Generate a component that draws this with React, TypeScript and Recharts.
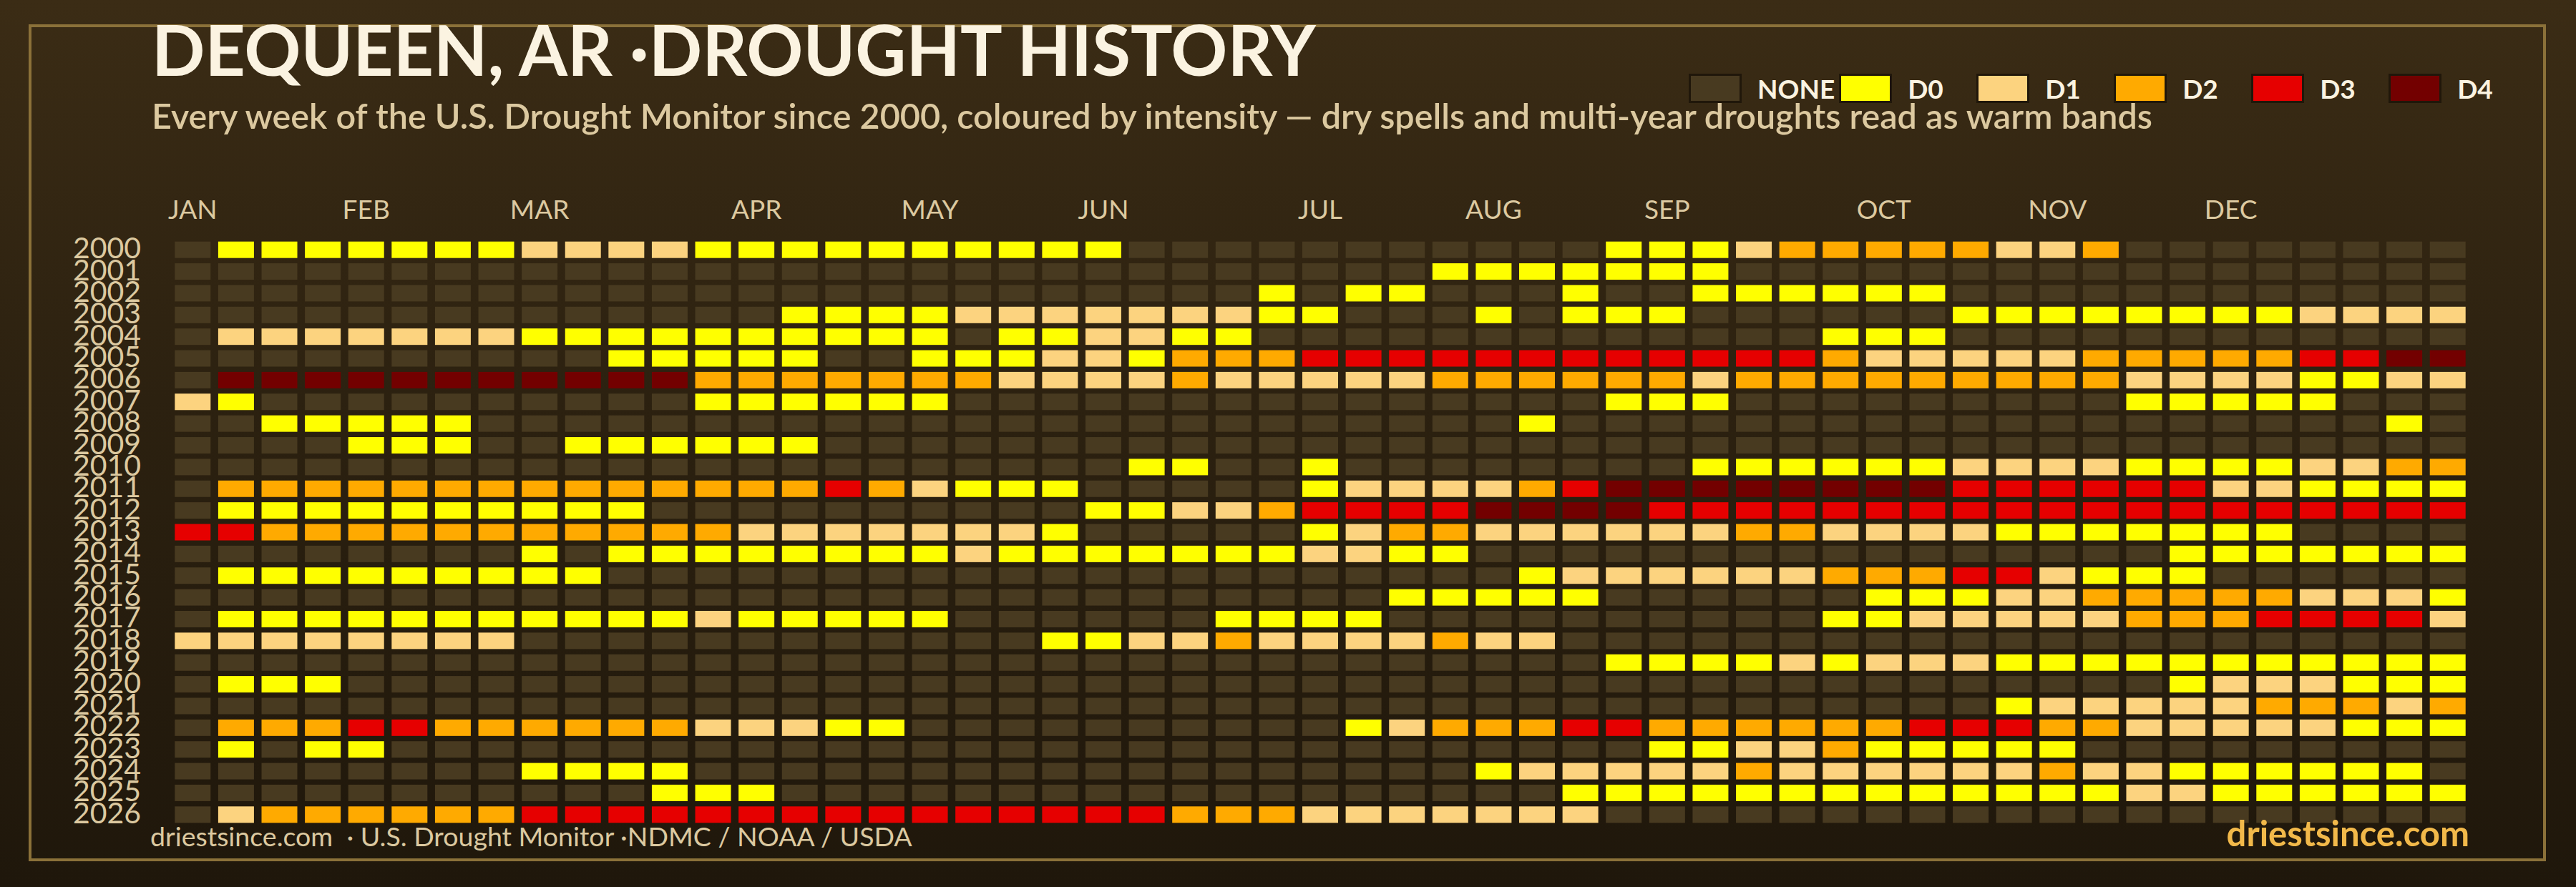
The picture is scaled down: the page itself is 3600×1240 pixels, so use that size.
import { ScatterChart, Scatter, XAxis, YAxis } from 'recharts'

// one row per year, one character per USDM week: '.' none, '0'..'4' = D0..D4
// segments split at weeks 17 | 35 only to keep them readable
const YEARS = [
  2000, 2001, 2002, 2003, 2004, 2005, 2006, 2007, 2008, 2009, 2010, 2011, 2012, 2013,
  2014, 2015, 2016, 2017, 2018, 2019, 2020, 2021, 2022, 2023, 2024, 2025, 2026,
]

const WEEK_CODES = [
  '.0000000111100000|00000...........00|0122222112........',
  '.................|............000000|0.................',
  '.................|........0.00...0..|000000............',
  '..............000|0111111100...0.000|......000000001111',
  '.1111111000000000|0.001100..........|...000............',
  '..........00000..|000110222333333333|333211111222223344',
  '.4444444444422222|221111211111222222|122222222211110011',
  '10..........00000|0...............00|0.........00000...',
  '..00000..........|..............0...|................0.',
  '....000..000000..|..................|..................',
  '.................|.....00..0........|000000111100001122',
  '.2222222222222232|1000.....011112344|444444333333110000',
  '.0000000000......|....00112333344443|333333333333333333',
  '33222222222221111|1110.....012211111|12211110000000....',
  '........0.0000000|0100000001100.....|...........0000000',
  '.000000000.......|..............0111|111222331000......',
  '.................|...........00000..|....00011222221110',
  '.0000000000010000|0......0000.......|...001111122233331',
  '11111111.........|...001121111211...|..................',
  '.................|................00|001011100000000000',
  '.000.............|..................|...........0111000',
  '.................|..................|.......01111122212',
  '.2223322222211100|..........01222332|222223332211111000',
  '.0.00............|.................0|011200000.........',
  '........0000.....|.............01111|12111111211000000.',
  '...........000...|...............000|000000000011000000',
  '.1222222333333333|3333332221111111..|..................',
]

const LEVELS = ['NONE', 'D0', 'D1', 'D2', 'D3', 'D4']
const LEVEL_COLORS = ['#483a20', '#ffff00', '#fcd37f', '#ffaa00', '#e60000', '#730000']
const CODE_TO_LEVEL: Record<string, number> = { '.': 0, '0': 1, '1': 2, '2': 3, '3': 4, '4': 5 }

const MONTHS = ['JAN', 'FEB', 'MAR', 'APR', 'MAY', 'JUN', 'JUL', 'AUG', 'SEP', 'OCT', 'NOV', 'DEC']
const MONTH_WEEKS = [1, 5, 9, 14, 18, 22, 27, 31, 35, 40, 44, 48]

const cells = YEARS.flatMap((year, i) =>
  WEEK_CODES[i]
    .replace(/\|/g, '')
    .split('')
    .map((c, w) => ({ year, week: w + 1, level: CODE_TO_LEVEL[c] ?? 0 }))
)
const seriesData = LEVELS.map((_, lvl) => cells.filter((c) => c.level === lvl))

const FONT = 'Lato, "DejaVu Sans", sans-serif'
const CELL_W = 50
const CELL_H = 23

function CellShape(props: any) {
  const { cx, cy, fill } = props
  if (cx == null || cy == null) return null
  return <rect x={cx - CELL_W / 2} y={cy - CELL_H / 2} width={CELL_W} height={CELL_H} fill={fill} />
}

function MonthTick(props: any) {
  const { x, y, payload } = props
  const label = MONTHS[MONTH_WEEKS.indexOf(payload.value)]
  return (
    <text x={x} y={y} textAnchor="middle" fontFamily={FONT} fontSize={37} fill="#dcc9a0">
      {label}
    </text>
  )
}

function YearTick(props: any) {
  const { x, y, payload } = props
  return (
    <text x={x} y={y} dy={12} textAnchor="end" fontFamily={FONT} fontSize={41} fill="#dcc9a0">
      {payload.value}
    </text>
  )
}

export default function App() {
  return (
    <div
      style={{
        position: 'absolute',
        left: 0,
        top: 0,
        width: 3600,
        height: 1240,
        background: 'linear-gradient(180deg, #3b2c15 0%, #2c2110 45%, #1f170b 100%)',
        overflow: 'hidden',
      }}
    >
      <svg width={3600} height={1240} style={{ position: 'absolute', left: 0, top: 0 }}>
        <rect x={42} y={36} width={3514} height={1166} fill="none" stroke="#8b7139" strokeWidth={4} />
      </svg>

      <div style={{ position: 'absolute', left: 0, top: 0 }}>
        <ScatterChart width={3600} height={1240} margin={{ top: 274, right: 149, bottom: 86, left: 139 }}>
          <XAxis
            type="number"
            dataKey="week"
            orientation="top"
            domain={[0.5, 53.5]}
            ticks={MONTH_WEEKS}
            interval={0}
            axisLine={false}
            tickLine={false}
            tickSize={0}
            tickMargin={28}
            height={60}
            tick={<MonthTick />}
          />
          <YAxis
            type="number"
            dataKey="year"
            domain={[1999.5, 2026.5]}
            reversed
            ticks={YEARS}
            interval={0}
            axisLine={false}
            tickLine={false}
            tickSize={0}
            tickMargin={42}
            width={100}
            tick={<YearTick />}
          />
          {seriesData.map((d, i) => (
            <Scatter
              key={LEVELS[i]}
              name={LEVELS[i]}
              data={d}
              fill={LEVEL_COLORS[i]}
              shape={CellShape}
              isAnimationActive={false}
            />
          ))}
        </ScatterChart>
      </div>

      <svg width={3600} height={1240} style={{ position: 'absolute', left: 0, top: 0, pointerEvents: 'none' }}>
        <text x={212} y={106} fontFamily={FONT} fontSize={98} fontWeight={700} fill="#fbf3e1">
          DEQUEEN, AR ·DROUGHT HISTORY
        </text>
        <text x={212} y={180} fontFamily={FONT} fontSize={48.5} fontWeight={600} fill="#dcc9a0">
          Every week of the U.S. Drought Monitor since 2000, coloured by intensity — dry spells and multi-year droughts read as warm bands
        </text>
        <text x={210} y={1183} fontFamily={FONT} fontSize={37.5} fill="#dcc9a0" xmlSpace="preserve">
          driestsince.com  · U.S. Drought Monitor ·NDMC / NOAA / USDA
        </text>
        <text x={3451} y={1183} textAnchor="end" fontFamily={FONT} fontSize={49} fontWeight={700} fill="#f2b94a">
          driestsince.com
        </text>
      </svg>

      <div style={{ position: 'absolute', left: 2360, top: 103, display: 'flex', alignItems: 'center' }}>
        {LEVELS.map((name, i) => (
          <div key={name} style={{ display: 'flex', alignItems: 'center', minWidth: 186, marginRight: 6 }}>
            <div
              style={{
                width: 74,
                height: 41,
                boxSizing: 'border-box',
                border: '3px solid #20170a',
                background: LEVEL_COLORS[i],
              }}
            />
            <span
              style={{
                marginLeft: 22,
                fontFamily: FONT,
                fontWeight: 700,
                fontSize: 37,
                lineHeight: '41px',
                color: '#fbf3e1',
              }}
            >
              {name}
            </span>
          </div>
        ))}
      </div>
    </div>
  )
}
